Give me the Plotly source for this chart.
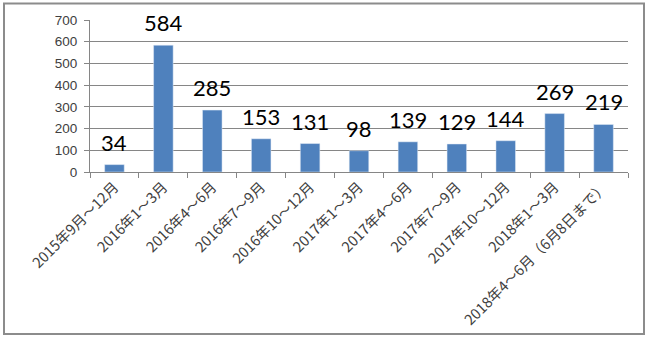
import plotly.graph_objects as go

categories = ["2015年9月～12月", "2016年1～3月", "2016年4～6月", "2016年7～9月",
              "2016年10～12月", "2017年1～3月", "2017年4～6月", "2017年7～9月",
              "2017年10～12月", "2018年1～3月", "2018年4～6月（6月8日まで）"]
values = [34, 584, 285, 153, 131, 98, 139, 129, 144, 269, 219]
y_ticks = [0, 100, 200, 300, 400, 500, 600, 700]

W, H = 650, 341
L, R, T, B = 90, 22, 20, 169
pw, ph = W - L - R, H - T - B

fig = go.Figure(go.Bar(
    x=categories, y=values, marker_color="#4f81bd", cliponaxis=False,
))

for c, v in zip(categories, values):
    fig.add_annotation(x=c, y=v, text=str(v), showarrow=False, yanchor="bottom",
                       yshift=7,
                       font=dict(size=22, color="#000000", family="Lato, Liberation Sans, sans-serif"))

def px(x):
    return (x - L) / pw

def py(y):
    return (H - B - y) / ph

fig.update_layout(
    width=W, height=H, margin=dict(l=L, r=R, t=T, b=B, autoexpand=False),
    paper_bgcolor="white", plot_bgcolor="white", bargap=0.6, showlegend=False,
    font=dict(family="Noto Sans CJK JP, sans-serif", color="#404040"),
    shapes=[dict(type="rect", xref="paper", yref="paper",
                 x0=px(4), x1=px(644), y0=py(334), y1=py(3.5),
                 line=dict(color="#8c8c8c", width=2), layer="below")],
)
fig.update_xaxes(
    tickangle=-45, tickfont=dict(size=14.5, color="#404040", family="Noto Sans CJK JP, sans-serif"),
    showline=True, linecolor="#868686", linewidth=1, automargin=False,
    ticks="outside", tickson="boundaries", ticklen=5, tickcolor="#868686",
    showgrid=False,
)
fig.update_yaxes(
    range=[0, 700], tickvals=y_ticks, showgrid=True, gridcolor="#868686", gridwidth=1,
    showline=True, linecolor="#868686", ticks="outside", ticklen=5, tickcolor="#868686",
    tickfont=dict(size=13.5, color="#404040", family="Liberation Sans, sans-serif"),
    ticklabelstandoff=4, zeroline=False, automargin=False,
)
fig.write_html("out.html")
